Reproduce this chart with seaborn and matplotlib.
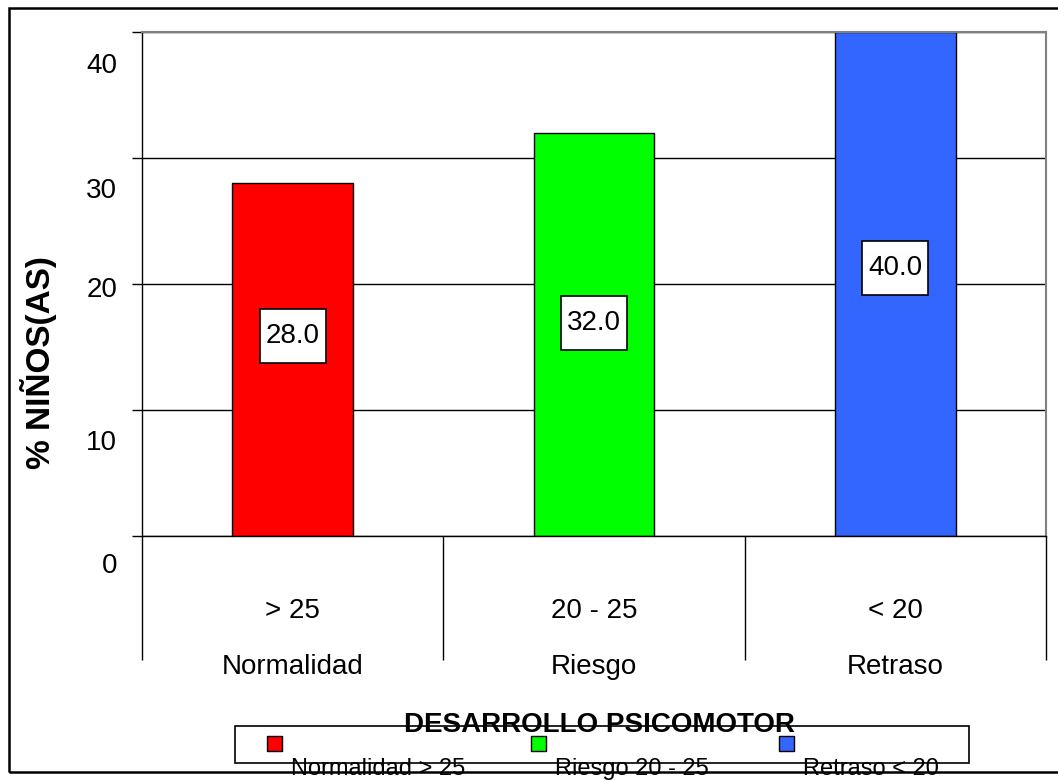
import matplotlib
matplotlib.use("Agg")
import matplotlib.pyplot as plt
import matplotlib.transforms as mtransforms
from matplotlib.patches import Rectangle
import pandas as pd
import seaborn as sns

# --- datos ---
rangos = ['> 25', '20 - 25', '< 20']
niveles = ['Normalidad', 'Riesgo', 'Retraso']
porcentajes = [28.0, 32.0, 40.0]
marcas_y = [0, 10, 20, 30, 40]
colores = ['#FF0000', '#00FF00', '#3366FF']

df = pd.DataFrame({'rango': rangos, 'nivel': niveles, 'pct': porcentajes})
df['etiqueta'] = df['rango'] + '\n' + df['nivel']
df['leyenda'] = df['nivel'] + ' ' + df['rango']

sns.set_style('white')
plt.rcParams['font.family'] = ['Liberation Sans', 'DejaVu Sans']
plt.rcParams['text.color'] = 'black'
plt.rcParams['axes.labelcolor'] = 'black'
plt.rcParams['xtick.color'] = 'black'
plt.rcParams['ytick.color'] = 'black'

W, H = 1058, 780
fig = plt.figure(figsize=(W / 100, H / 100), dpi=100)
# area del grafico en pixeles: x 142-1046, y 32-536
ax = fig.add_axes([142 / W, 1 - 536 / H, (1046 - 142) / W, (536 - 32) / H])

sns.barplot(data=df, x='etiqueta', y='pct', hue='etiqueta', palette=colores,
            width=0.4, saturation=1, edgecolor='black', linewidth=1,
            errorbar=None, legend=False, ax=ax, zorder=2)

ax.set_xlim(-0.5, 2.5)
ax.set_ylim(0, 40)
ax.set_axisbelow(True)
ax.yaxis.grid(True, color='black', linewidth=1)
ax.xaxis.grid(False)

for lado in ['left', 'bottom']:
    ax.spines[lado].set_color('black')
    ax.spines[lado].set_linewidth(1)
for lado in ['top', 'right']:
    ax.spines[lado].set_color('#808080')
    ax.spines[lado].set_linewidth(1.5)

# eje Y
ax.set_yticks(marcas_y)
ax.set_yticklabels([str(v) for v in marcas_y])
ax.tick_params(axis='y', direction='out', length=7, width=1, color='black',
               labelcolor='black', labelsize=20, pad=10.8, left=True)
# desplazamiento de las etiquetas como en el original (px hacia abajo)
desplaz = [27, 30, 3, 30, 31]
for lab, d in zip(ax.get_yticklabels(), desplaz):
    lab.set_transform(lab.get_transform() +
                      mtransforms.ScaledTranslation(0, -d / 100, fig.dpi_scale_trans))

# eje X: dos filas de texto y separadores largos
ax.tick_params(axis='x', which='major', length=0, labelsize=20, pad=44.5,
               labelcolor='black')
for lab in ax.get_xticklabels():
    lab.set_linespacing(2.5)
ax.set_xticks([-0.5, 0.5, 1.5, 2.5], minor=True)
ax.tick_params(axis='x', which='minor', direction='out', length=89, width=1,
               color='black', bottom=True)

ax.set_ylabel('% NIÑOS(AS)', fontsize=24, fontweight='bold', va='center')
ax.yaxis.set_label_coords(-0.114, 0.345)
ax.set_xlabel('DESARROLLO PSICOMOTOR', fontsize=20, fontweight='bold', va='center')
ax.xaxis.set_label_coords(0.5055, -0.375)

# etiquetas de valor con su recuadro blanco (66 x 54 px)
pos_etiq = [15.9, 16.9, 21.3]
for i, (v, yp) in enumerate(zip(porcentajes, pos_etiq)):
    ancla = mtransforms.ScaledTranslation(i, yp, ax.transData)
    ax.add_patch(Rectangle((-0.33, -0.27), 0.66, 0.54,
                           transform=fig.dpi_scale_trans + ancla,
                           fc='white', ec='black', lw=1.2, zorder=4))
    ax.text(i, yp, f'{v:.1f}', ha='center', va='center', fontsize=20, zorder=5)

# leyenda (dibujada a mano como en el original)
fig.patches.append(Rectangle((235 / W, 1 - 763 / H), (969 - 235) / W, 37 / H,
                             transform=fig.transFigure, fc='none', ec='black',
                             lw=1.2, zorder=1))
x_marca = [267, 531, 779]
for xm, col, txt in zip(x_marca, colores, df['leyenda']):
    fig.patches.append(Rectangle((xm / W, 1 - 751 / H), 15 / W, 15 / H,
                                 transform=fig.transFigure, fc=col, ec='black',
                                 lw=1, zorder=2))
    fig.text((xm + 24) / W, 1 - 769 / H, txt, ha='left', va='center',
             fontsize=17, zorder=4)

# marco exterior
fig.patches.append(Rectangle((9 / W, 1 - 772 / H), 1.2, (772 - 8) / H,
                             transform=fig.transFigure, fill=False, ec='black',
                             lw=1.8, zorder=3))

fig.savefig('out.png', dpi=100)
